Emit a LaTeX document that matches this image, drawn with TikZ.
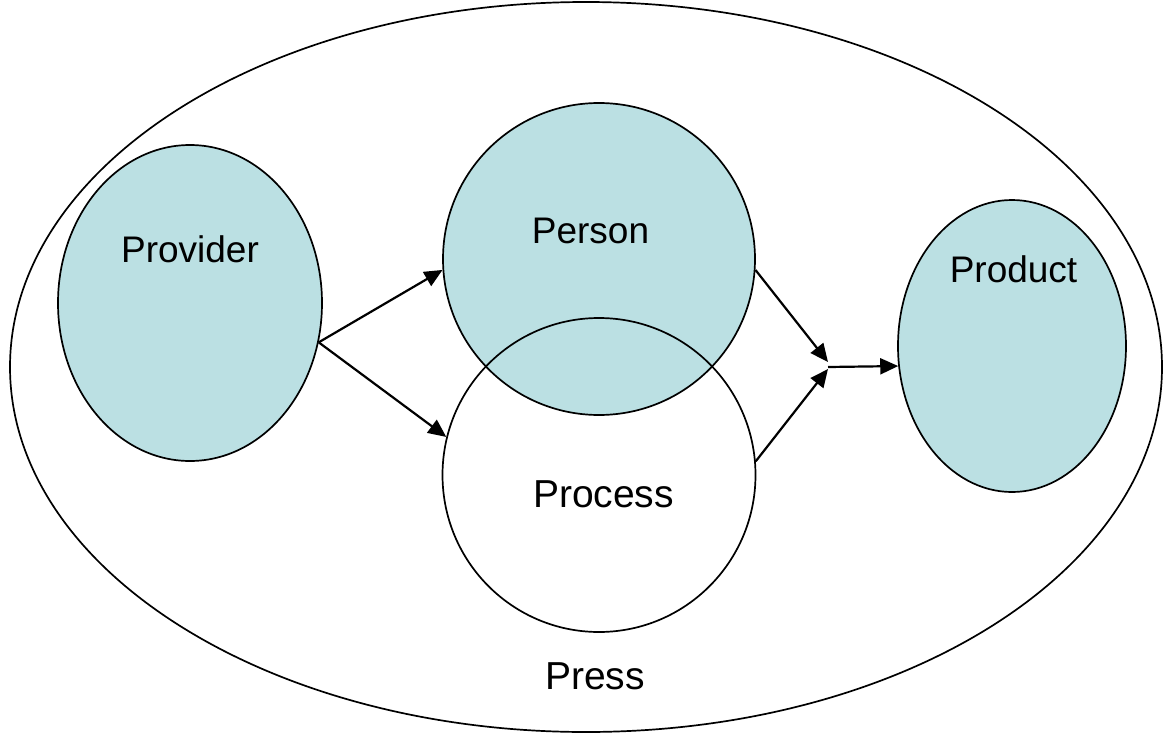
\documentclass[tikz,border=0pt]{standalone}
\usepackage{fontspec}
\setmainfont{Liberation Sans}
\usetikzlibrary{shapes.geometric,arrows.meta}
\definecolor{teal}{HTML}{BBE0E3}
\tikzset{
  blob/.style={ellipse, draw=black, line width=1.7pt, inner sep=0pt},
  lbl/.style={anchor=base, inner sep=0pt, font=\fontsize{37}{40}\selectfont},
  biglbl/.style={lbl, font=\fontsize{39}{42}\selectfont},
  conn/.style={line width=2.2pt, -{Triangle[length=18pt,width=16pt]}}
}
\begin{document}
\begin{tikzpicture}[x=1pt,y=-1pt]
\useasboundingbox (0,0) rectangle (1163,734);
\node[blob, minimum width=1152pt, minimum height=730pt] (press) at (586,367) {};
\node[blob, fill=teal, minimum width=264pt, minimum height=316pt] (provider) at (190,303) {};
\node[blob, fill=teal, minimum width=228pt, minimum height=292pt] (product) at (1012,346) {};
\node[blob, fill=teal, minimum width=312pt, minimum height=312pt] (person) at (599,259) {};
\node[blob, minimum width=313pt, minimum height=314pt] (process) at (599,475) {};
\node[lbl] (tprovider) at (190,262) {Provider};
\node[lbl] (tperson) at (590.5,243) {Person};
\node[lbl] (tproduct) at (1013.5,282) {Product};
\node[biglbl] (tprocess) at (603.5,507) {Process};
\node[biglbl] (tpress) at (595,689) {Press};
\coordinate (j1) at (828,362);
\coordinate (j2) at (828,369);
\coordinate (j) at (828,367);
\draw[conn] (provider.-17) -- (person.184);
\draw[conn] (provider.-17) -- (process.166);
\draw[conn] (person.-4) -- (j1);
\draw[conn] (process.5) -- (j2);
\draw[conn] (j) -- (product.190);
\end{tikzpicture}
\end{document}
